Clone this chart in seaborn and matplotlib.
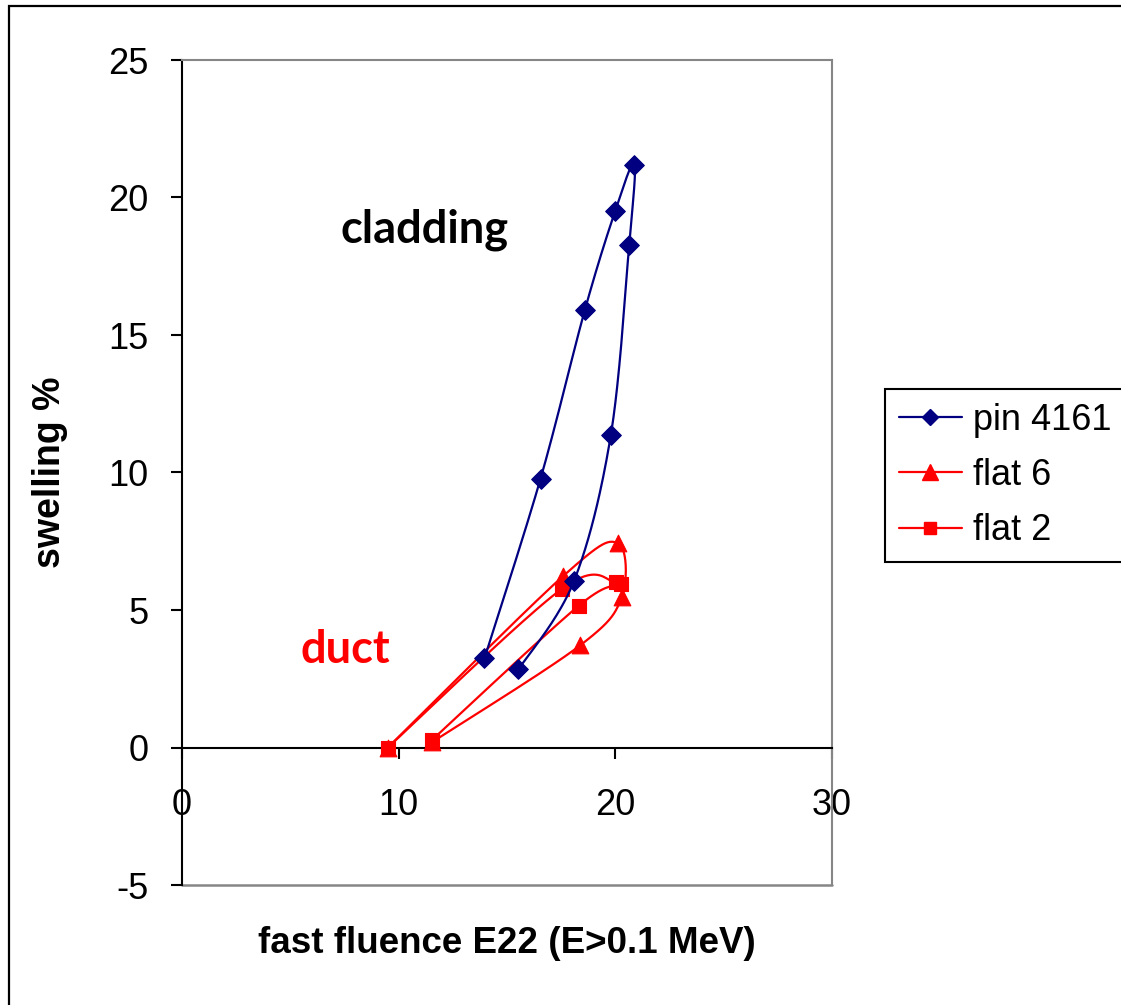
import numpy as np
import pandas as pd
import matplotlib
matplotlib.use("Agg")
import matplotlib.pyplot as plt
from matplotlib.lines import Line2D
from matplotlib.patches import Rectangle
import seaborn as sns

# Swelling (%) versus fast fluence (E22 n/cm2, E>0.1 MeV)
pin_fluence = [13.96, 16.55, 18.59, 19.99, 20.87, 20.64, 19.79, 18.09, 15.53]
pin_swelling = [3.24, 9.78, 15.90, 19.50, 21.20, 18.29, 11.35, 6.05, 2.84]

flat6_fluence = [9.50, 17.60, 20.10, 20.30, 18.37, 11.55]
flat6_swelling = [0.00, 6.24, 7.44, 5.49, 3.71, 0.20]

flat2_fluence = [9.50, 17.55, 20.02, 20.25, 18.32, 11.55]
flat2_swelling = [0.00, 5.78, 6.01, 5.93, 5.16, 0.28]

series_names = ["pin 4161", "flat 6", "flat 2"]
x_ticks = [0, 10, 20, 30]
y_ticks = [-5, 0, 5, 10, 15, 20, 25]

NAVY = "#000080"
RED = "#FF0000"
GRAY = "#868686"


def smooth_path(xs, ys, n=40):
    """Piecewise cubic Bezier through the points (spreadsheet-style smoothing)."""
    p = np.column_stack([xs, ys]).astype(float)
    ext = np.vstack([p[0], p, p[-1]])
    t = np.linspace(0, 1, n)[:, None]
    parts = []
    for i in range(len(p) - 1):
        p0, p1, p2, p3 = ext[i], ext[i + 1], ext[i + 2], ext[i + 3]
        b1 = p1 + (p2 - p0) / 6.0
        b2 = p2 - (p3 - p1) / 6.0
        seg = ((1 - t) ** 3) * p1 + 3 * ((1 - t) ** 2) * t * b1 \
            + 3 * (1 - t) * t ** 2 * b2 + t ** 3 * p2
        parts.append(seg if i == 0 else seg[1:])
    out = np.vstack(parts)
    return pd.DataFrame({"fluence": out[:, 0], "swelling": out[:, 1]})


sns.set_theme(style="white")
plt.rcParams["font.family"] = ["Liberation Sans", "DejaVu Sans"]
plt.rcParams["text.color"] = "black"
plt.rcParams["axes.labelcolor"] = "black"
plt.rcParams["xtick.color"] = "black"
plt.rcParams["ytick.color"] = "black"

W, H = 1121, 1005
fig = plt.figure(figsize=(W / 100, H / 100), dpi=100)
fig.patch.set_facecolor("white")
ax = fig.add_axes([182 / W, 1 - 885 / H, 650 / W, 825 / H])
ax.set_facecolor("white")

series = [
    (pin_fluence, pin_swelling, NAVY, "D", 10.0, 6),
    (flat6_fluence, flat6_swelling, RED, "^", 12.0, 4),
    (flat2_fluence, flat2_swelling, RED, "s", 10.5, 5),
]

for xs, ys, col, mk, ms, z in series:
    path = smooth_path(xs, ys)
    sns.lineplot(data=path, x="fluence", y="swelling", sort=False,
                 estimator=None, color=col, linewidth=1.6, ax=ax,
                 legend=False, zorder=z)
    pts = pd.DataFrame({"fluence": xs, "swelling": ys})
    sns.scatterplot(data=pts, x="fluence", y="swelling", marker=mk,
                    s=ms ** 2, color=col, edgecolor=col, linewidth=0.8,
                    ax=ax, legend=False, zorder=z + 0.5, clip_on=False)

ax.set_xlim(0, 30)
ax.set_ylim(-5, 25)
ax.set_xticks(x_ticks)
ax.set_yticks(y_ticks)
ax.set_xticklabels([str(v) for v in x_ticks])
ax.set_yticklabels([str(v) for v in y_ticks])

# axis lines: x axis crosses at zero, plot-area border in gray
ax.spines["bottom"].set_position(("data", 0))
ax.spines["bottom"].set_color("black")
ax.spines["bottom"].set_linewidth(1.5)
ax.spines["bottom"].set_zorder(3)
ax.spines["left"].set_color("black")
ax.spines["left"].set_linewidth(1.5)
for side in ("top", "right"):
    ax.spines[side].set_color(GRAY)
    ax.spines[side].set_linewidth(1.5)
ax.axhline(-5, color=GRAY, linewidth=1.8, clip_on=False, zorder=2)

ax.tick_params(axis="both", direction="out", length=8, width=1.5,
               colors="black", labelcolor="black", labelsize=26,
               bottom=True, left=True)
ax.tick_params(axis="x", pad=21)
ax.tick_params(axis="y", pad=16)

ax.set_xlabel("fast fluence E22 (E>0.1 MeV)", fontsize=26.5,
              fontweight="bold", va="center", color="black")
ax.xaxis.set_label_coords(0.5, (885 - 943) / 825)
ax.set_ylabel("swelling %", fontsize=27, fontweight="bold", va="center",
              color="black")
ax.yaxis.set_label_coords((50 - 182) / 650, (885 - 472) / 825)

ax.text(7.3, 18.36, "cladding", color="black", fontsize=32.5,
        fontweight="bold", family=["Lato", "DejaVu Sans"],
        ha="left", va="baseline")
ax.text(5.46, 3.09, "duct", color=RED, fontsize=32.5,
        fontweight="bold", family=["Lato", "DejaVu Sans"],
        ha="left", va="baseline")

handles = [
    Line2D([0], [0], color=NAVY, lw=1.6, marker="D", ms=8,
           markeredgecolor=NAVY),
    Line2D([0], [0], color=RED, lw=1.6, marker="^", ms=11,
           markeredgecolor=RED),
    Line2D([0], [0], color=RED, lw=1.6, marker="s", ms=8.5,
           markeredgecolor=RED),
]
leg = fig.legend(handles, series_names, loc="upper left",
                 bbox_to_anchor=(885 / W, 1 - 389 / H), fontsize=26,
                 frameon=True, fancybox=False, shadow=False,
                 edgecolor="black", facecolor="white", framealpha=1,
                 handlelength=1.75, handletextpad=0.3, labelspacing=0.56,
                 borderpad=0.38, borderaxespad=0)
leg.get_frame().set_linewidth(1.5)
for txt in leg.get_texts():
    txt.set_color("black")

# outer chart border
fig.patches.append(Rectangle((9 / W, -0.02), 1.05, 1 - 6 / H + 0.02,
                             transform=fig.transFigure, fill=False,
                             edgecolor="black", linewidth=1.6))

fig.savefig("out.png", dpi=100)
